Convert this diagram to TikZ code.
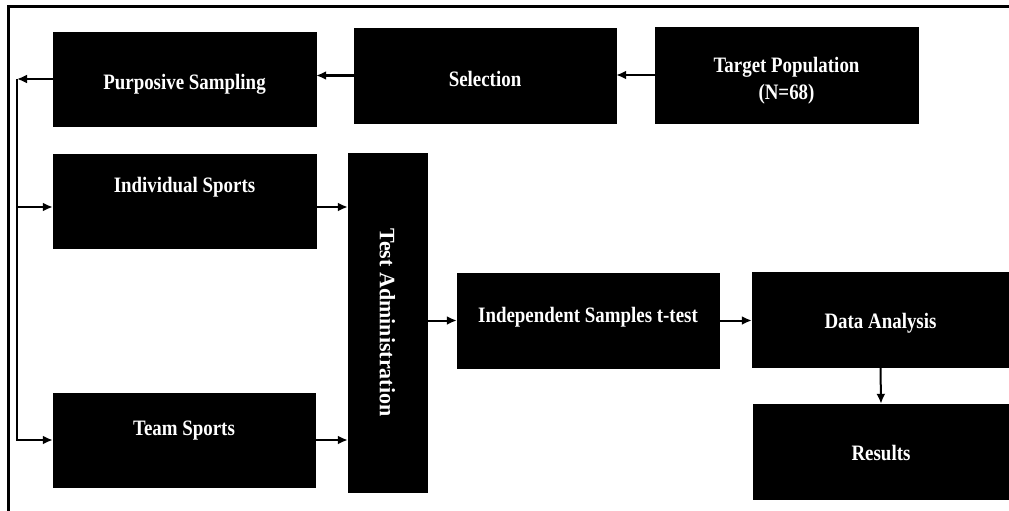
\documentclass[tikz,border=0pt]{standalone}
\usepackage{fontspec}
\newfontfamily\boxfont{Liberation Serif}[FakeStretch=0.86]
\newfontfamily\vertfont{Liberation Serif}
\usetikzlibrary{arrows.meta}

\begin{document}
\begin{tikzpicture}[x=1pt,y=-1pt,
            box/.style={fill=black,draw=black,text=white,inner sep=0pt,
              font=\boxfont\bfseries\fontsize{22}{27}\selectfont},
            arrow/.style={draw,-{Latex[length=10pt,width=9pt]},line width=2pt}
          ]
          \useasboundingbox (0,0) rectangle (1009,511);
          \draw[line width=3pt] (1009,7) -- (8,7) -- (8,511);

          % top row
          \node[box,minimum width=263pt,minimum height=96pt,align=center] (target)
            at (786.5,75) {\rule{0pt}{27pt}Target Population\\(N=68)};
          \node[box,minimum width=262pt,minimum height=95pt,
            text height=26pt,text depth=5pt] (selection) at (485,75.5) {Selection};
          \node[box,minimum width=263pt,minimum height=94pt,
            text height=26pt,text depth=5pt] (purposive) at (184.5,79) {Purposive Sampling};

          % groups
          \node[box,minimum width=263pt,minimum height=94pt,
            text height=15pt,text depth=32pt] (individual) at (184.5,201) {Individual Sports};
          \node[box,minimum width=262pt,minimum height=94pt,
            text height=15pt,text depth=25pt] (team) at (184,440) {Team Sports};
          \node[box,rotate=-90,minimum width=339pt,minimum height=79pt,
            font=\vertfont\bfseries\fontsize{22}{27}\selectfont] (test) at (387.5,322.5) {Test Administration};

          % analysis
          \node[box,minimum width=262pt,minimum height=95pt,
            text height=15pt,text depth=11pt] (ttest) at (588,320.5) {Independent Samples t-test};
          \node[box,minimum width=257pt,minimum height=95pt,
            text height=22pt,text depth=5pt] (data) at (880.5,319.5) {Data Analysis};
          \node[box,minimum width=256pt,minimum height=95pt,
            text height=22pt,text depth=5pt] (results) at (881,451.5) {Results};

          \coordinate (split) at (17,79);

          \draw[arrow] (target.west) -- (target.west -| selection.east);
          \draw[arrow] (selection.west) -- (selection.west -| purposive.east);
          \draw[arrow] (purposive.west) -- (split);
          \draw[arrow] (split) |- ([yshift=-6pt]individual.west);
          \draw[arrow] (split) |- (team.west);
          \draw[arrow] ([yshift=-6pt]individual.east) -- ([yshift=-6pt]individual.east -| test.south);
          \draw[arrow] (team.east) -- (team.east -| test.south);
          \draw[arrow] (ttest.west -| test.north) -- (ttest.west);
          \draw[arrow] (ttest.east) -- (ttest.east -| data.west);
          \draw[arrow] (data.south) -- (results.north);
\end{tikzpicture}
\end{document}
